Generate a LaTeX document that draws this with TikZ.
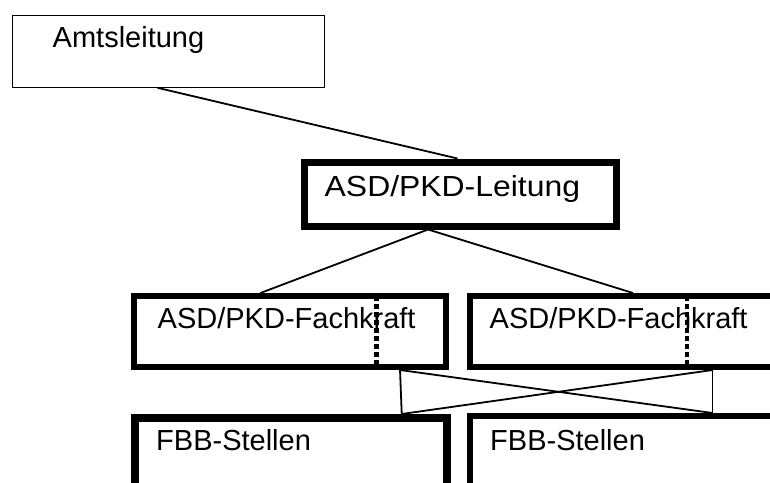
\documentclass[tikz,border=0pt]{standalone}
\usepackage{fontspec}
\setmainfont{Liberation Sans}
\usetikzlibrary{calc}
\begin{document}
\begin{tikzpicture}[x=1pt,y=-1pt,
  box/.style={draw=black, rectangle, minimum width=312pt, anchor=north west, inner sep=0pt},
  label/.style={anchor=base west, inner sep=0pt, font=\fontsize{29}{34}\selectfont},
  link/.style={draw=black, line width=1.8pt},
  divider/.style={draw=black, line width=4.5pt, dash pattern=on 4.5pt off 3.5pt}
]
\useasboundingbox (0,0) rectangle (770,482);
\clip (0,0) rectangle (770,482);

% organisational boxes
\node[box, line width=1.3pt, minimum height=72pt] (amt) at (11.5,14.5) {};
\node[box, line width=7pt,   minimum height=64pt] (asd) at (300.5,158.5) {};
\node[box, line width=6pt,   minimum height=71pt] (fk1) at (131,293) {};
\node[box, line width=6pt,   minimum height=71pt] (fk2) at (467,293) {};
\node[box, line width=8pt,   minimum height=80pt] (fbb1) at (131,414) {};
\node[box, line width=6pt,   minimum height=80pt] (fbb2) at (467,413) {};

% box captions
\node[label] (tamt) at (52.5,47.5) {Amtsleitung};
\node[label] (tasd) at (324.5,196) {\scalebox{1.1}[1]{ASD/PKD-Leitung}};
\node[label] (tfk1) at (157.5,328) {ASD/PKD-Fachkraft};
\node[label] (tfk2) at (489.5,328) {ASD/PKD-Fachkraft};
\node[label] (tfbb1) at (156,450) {FBB-Stellen};
\node[label] (tfbb2) at (490,450) {FBB-Stellen};

% reporting lines
\draw[link] ($(amt.south west)!0.466!(amt.south east)$) -- ($(asd.north west)!0.492!(asd.north east)$);
\draw[link] ($(asd.south west)!0.40!(asd.south east)$) -- ($(fk1.north west)!0.407!(fk1.north east)$);
\draw[link] ($(asd.south west)!0.40!(asd.south east)$) -- ($(fk2.north west)!0.522!(fk2.north east)$);

% links between Fachkraft and FBB boxes
\draw[link] ($(fk1.south west)!0.846!(fk1.south east)$) -- ($(fbb1.north west)!0.846!(fbb1.north east)$);
\draw[link] ($(fk2.south west)!0.772!(fk2.south east)$) -- ($(fbb2.north west)!0.772!(fbb2.north east)$);
\draw[link] ($(fk1.south west)!0.846!(fk1.south east)$) -- ($(fbb2.north west)!0.772!(fbb2.north east)$);
\draw[link] ($(fbb1.north west)!0.846!(fbb1.north east)$) -- ($(fk2.south west)!0.772!(fk2.south east)$);

% dotted dividers inside the Fachkraft boxes
\draw[divider] ($(fk1.north west)!0.772!(fk1.north east)+(0,3)$) -- ($(fk1.south west)!0.772!(fk1.south east)+(0,-4)$);
\draw[divider] ($(fk2.north west)!0.692!(fk2.north east)+(0,3)$) -- ($(fk2.south west)!0.692!(fk2.south east)+(0,-4)$);
\end{tikzpicture}
\end{document}
